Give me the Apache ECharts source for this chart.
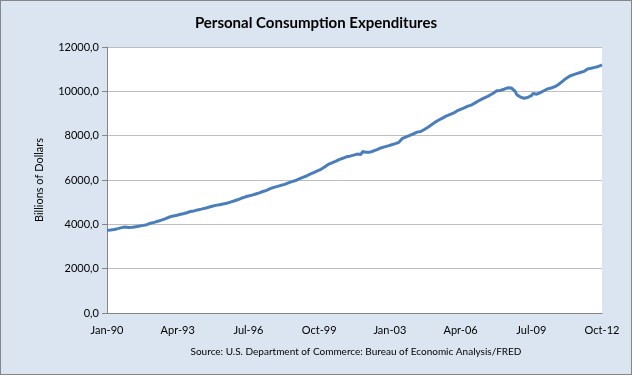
<!DOCTYPE html>
<html>
<head>
<meta charset="utf-8">
<script src="https://cdn.jsdelivr.net/npm/echarts@6/dist/echarts.min.js"></script>
<style>
html,body{margin:0;padding:0;background:#fff;}
#chart{width:632px;height:375px;box-sizing:border-box;border:1px solid #878787;background:#dbe5f1;}
</style>
</head>
<body>
<div id="chart"></div>
<script>
// Monthly Personal Consumption Expenditures, billions of dollars (Jan 1990 - Oct 2012)
const y1990 = [3730, 3722, 3748, 3762, 3770, 3790, 3808, 3830, 3852, 3868, 3880, 3870];
const y1991 = [3858, 3842, 3865, 3880, 3895, 3908, 3922, 3940, 3952, 3965, 3985, 4010];
const y1992 = [4050, 4072, 4090, 4112, 4138, 4160, 4188, 4215, 4245, 4280, 4318, 4355];
const y1993 = [4368, 4382, 4395, 4420, 4442, 4460, 4480, 4500, 4522, 4545, 4578, 4595];
const y1994 = [4605, 4630, 4650, 4668, 4685, 4700, 4722, 4745, 4768, 4790, 4815, 4850];
const y1995 = [4855, 4868, 4882, 4900, 4918, 4935, 4952, 4970, 5000, 5025, 5052, 5080];
const y1996 = [5108, 5140, 5175, 5200, 5230, 5253, 5275, 5300, 5320, 5345, 5370, 5398];
const y1997 = [5420, 5450, 5480, 5500, 5535, 5575, 5610, 5640, 5668, 5690, 5712, 5735];
const y1998 = [5760, 5782, 5805, 5835, 5868, 5900, 5925, 5945, 5975, 6012, 6050, 6085];
const y1999 = [6120, 6150, 6180, 6225, 6262, 6295, 6330, 6372, 6410, 6448, 6480, 6525];
const y2000 = [6590, 6640, 6700, 6745, 6772, 6810, 6845, 6880, 6920, 6950, 6980, 7012];
const y2001 = [7045, 7062, 7075, 7095, 7120, 7142, 7170, 7185, 7150, 7290, 7262, 7248];
const y2002 = [7240, 7255, 7280, 7310, 7338, 7372, 7410, 7445, 7470, 7495, 7515, 7540];
const y2003 = [7565, 7590, 7612, 7640, 7665, 7700, 7790, 7880, 7920, 7945, 7970, 8010];
const y2004 = [8050, 8085, 8120, 8160, 8205, 8190, 8240, 8280, 8330, 8380, 8430, 8490];
const y2005 = [8560, 8610, 8650, 8705, 8740, 8790, 8845, 8880, 8905, 8950, 8975, 9015];
const y2006 = [9080, 9115, 9150, 9190, 9215, 9250, 9290, 9330, 9350, 9380, 9420, 9480];
const y2007 = [9530, 9575, 9615, 9660, 9700, 9735, 9775, 9820, 9870, 9915, 9975, 10025];
const y2008 = [10050, 10040, 10070, 10095, 10130, 10160, 10165, 10150, 10120, 10010, 9850, 9760];
const y2009 = [9740, 9715, 9690, 9700, 9720, 9760, 9805, 9900, 9840, 9870, 9895, 9940];
const y2010 = [9985, 10025, 10080, 10110, 10125, 10150, 10175, 10210, 10260, 10310, 10365, 10440];
const y2011 = [10520, 10570, 10630, 10680, 10720, 10740, 10775, 10800, 10830, 10850, 10870, 10900];
const y2012 = [10960, 11010, 11030, 11040, 11050, 11080, 11100, 11120, 11160, 11195];

const monthNames = ['Jan','Feb','Mar','Apr','May','Jun','Jul','Aug','Sep','Oct','Nov','Dec'];
const startYear = 1990;
const yTicks = [0, 2000, 4000, 6000, 8000, 10000, 12000];

const titleText = 'Personal Consumption Expenditures';
const yAxisTitle = 'Billions of Dollars';
const sourceText = 'Source: U.S. Department of Commerce: Bureau of Economic Analysis/FRED';

const pce = [].concat(y1990, y1991, y1992, y1993, y1994, y1995, y1996, y1997, y1998, y1999,
  y2000, y2001, y2002, y2003, y2004, y2005, y2006, y2007, y2008, y2009, y2010, y2011, y2012);

const categories = pce.map(function (v, i) {
  const y = startYear + Math.floor(i / 12);
  return monthNames[i % 12] + '-' + String(y % 100).padStart(2, '0');
});

const FONT = 'Lato, "Open Sans", sans-serif';
const chart = echarts.init(document.getElementById('chart'), null, {renderer: 'canvas'});
chart.setOption({
  animation: false,
  backgroundColor: '#dbe5f1',
  title: {
    text: titleText,
    left: 'center',
    top: 10,
    textStyle: {fontFamily: FONT, fontSize: 15, fontWeight: 'bold', color: '#000'}
  },
  graphic: [{
    type: 'text',
    x: 355,
    y: 351,
    style: {text: sourceText, font: '10px Lato, "Open Sans", sans-serif', fill: '#000', textAlign: 'center', textVerticalAlign: 'middle'}
  }],
  grid: {left: 106, right: 29, top: 46, bottom: 61, show: true, backgroundColor: '#ffffff', borderWidth: 0},
  xAxis: {
    type: 'category',
    data: categories,
    boundaryGap: false,
    axisLine: {lineStyle: {color: '#868686', width: 1}},
    axisTick: {show: false},
    axisLabel: {interval: 38, color: '#000', fontFamily: FONT, fontSize: 11, margin: 12},
    splitLine: {show: false}
  },
  yAxis: {
    type: 'value',
    min: yTicks[0],
    max: yTicks[yTicks.length - 1],
    interval: 2000,
    name: yAxisTitle,
    nameLocation: 'middle',
    nameRotate: 90,
    nameGap: 62,
    nameTextStyle: {fontFamily: FONT, fontSize: 11, color: '#000'},
    axisLine: {show: true, lineStyle: {color: '#868686', width: 1}},
    axisTick: {show: true, length: 5, lineStyle: {color: '#868686'}},
    axisLabel: {
      color: '#000', fontFamily: FONT, fontSize: 11, margin: 8,
      formatter: function (v) { return v.toFixed(1).replace('.', ','); }
    },
    splitLine: {lineStyle: {color: '#bfbfbf', width: 1}}
  },
  series: [{
    type: 'line',
    data: pce,
    symbol: 'none',
    lineStyle: {color: '#4a7ebb', width: 3},
    itemStyle: {color: '#4a7ebb'}
  }]
});
</script>
</body>
</html>
